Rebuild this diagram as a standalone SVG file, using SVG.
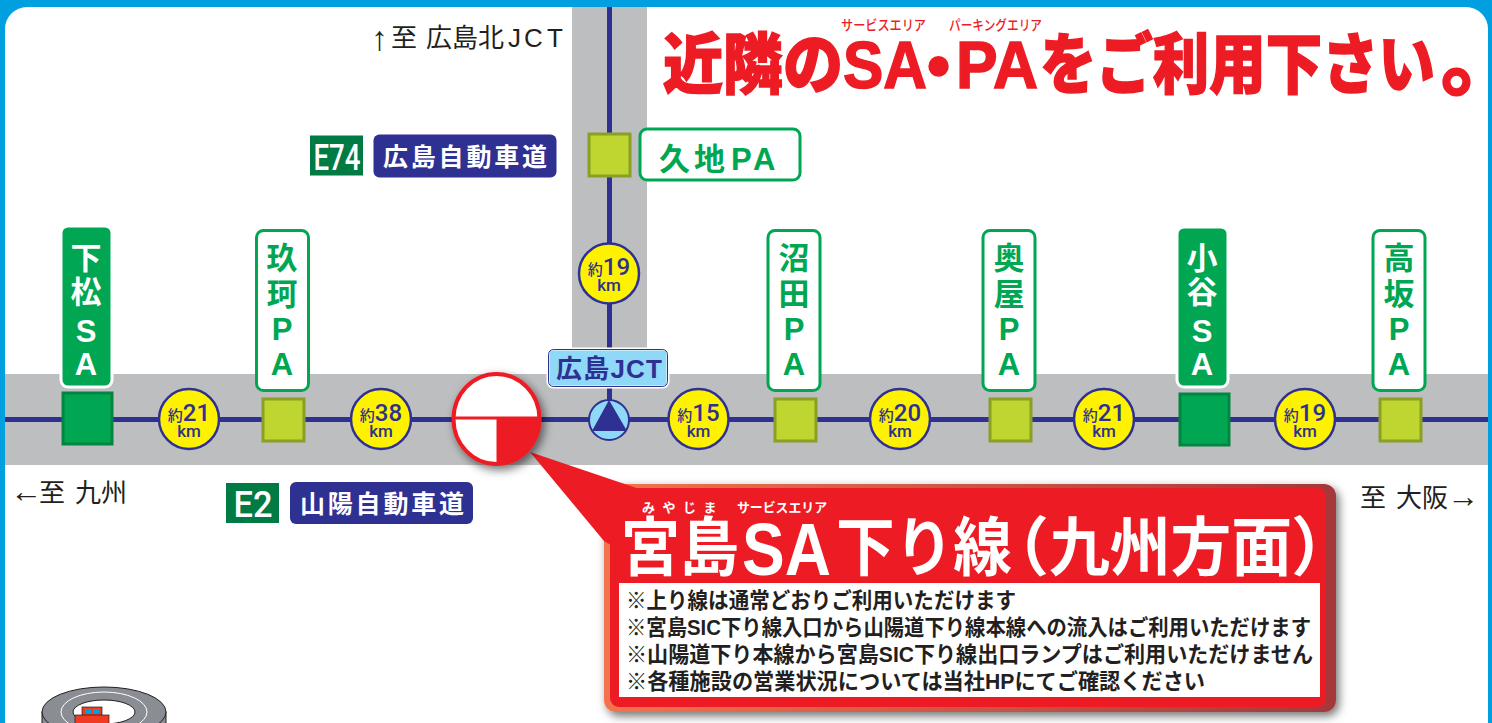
<svg xmlns="http://www.w3.org/2000/svg" width="1492" height="723" viewBox="0 0 1492 723">
<style>
text{font-family:"Liberation Sans","Noto Sans CJK JP",sans-serif}
.road{fill:#bcbec0}
.lnk{stroke:#2e3192;stroke-width:5;fill:none}
.dist{fill:#fff200;stroke:#2e3192;stroke-width:2.500}
.dt{font-family:Roboto,"Noto Sans CJK JP",sans-serif;fill:#2e3192;font-weight:500;text-anchor:middle}
.pa{fill:#bed62f;stroke:#8a9f23;stroke-width:3}
.sa{fill:#00a651;stroke:#008641;stroke-width:3}
.pal{fill:#fff;stroke:#00a651;stroke-width:3}
.sal{fill:#00a651;stroke:#fff;stroke-width:3}
.gt{fill:#00a651;font-size:31px;font-weight:700;text-anchor:middle}
.wt{fill:#fff;font-size:31px;font-weight:700;text-anchor:middle}
.dir{fill:#231f20;font-size:26px}
.pill{fill:#2e3192}
.pt{fill:#fff;font-size:25px;font-weight:700}
.eb{fill:#007b43}
.et{font-family:Roboto,sans-serif;fill:#fff;font-size:36px;font-weight:500;text-anchor:middle}
.note{fill:#231f20;font-size:22px;font-weight:700}
.ttl{fill:#fff;font-size:64px;font-weight:700}
.head{fill:#ed1c24;stroke:#ed1c24;stroke-width:1.500;font-size:66px;font-weight:900}
.rb{fill:#ed1c24;font-size:14px;font-weight:500}
</style>
<defs>
<linearGradient id="bevel" x1="0" x2="1" y1="0" y2="0"><stop offset="0" stop-color="#f3734e"/><stop offset="1" stop-color="#a5383b"/></linearGradient>
<filter id="sh" x="-20%" y="-20%" width="140%" height="140%"><feDropShadow dx="3" dy="4" stdDeviation="5" flood-color="#000" flood-opacity=".55"/></filter>
</defs>
<rect width="1492" height="723" fill="#00a0e0"/>
<rect x="5" y="7" width="1483" height="740" rx="22" fill="#fff"/>
<g id="roads">
<rect class="road" x="572" y="7" width="75" height="368"/>
<rect class="road" x="5" y="374" width="1483" height="91"/>
</g>
<g id="connectors">
<path class="lnk" d="M5 419.500H1488M609.500 7V420"/>
</g>
<g id="square-kuchi"><rect class="pa" x="589" y="134" width="41" height="42"/></g>
<g id="label-kuchi"><rect class="pal" x="640" y="129" width="160" height="51" rx="7"/><text class="gt" x="659 694 731 753" y="170" style="text-anchor:start">久地PA</text></g>
<g id="dir-north"><text class="dir" y="47"><tspan x="371" font-size="34" dy="3">↑</tspan><tspan x="391" dy="-3">至</tspan><tspan x="426">広</tspan><tspan x="452">島</tspan><tspan x="478">北</tspan><tspan x="508">J</tspan><tspan x="524">C</tspan><tspan x="547">T</tspan></text></g>
<g id="e74"><rect class="eb" x="310" y="135.500" width="53" height="40"/><text class="et" x="337" y="170" textLength="47" lengthAdjust="spacingAndGlyphs">E74</text></g>
<g id="route-e74"><rect class="pill" x="373.500" y="134.500" width="183" height="43" rx="6"/><text class="pt" x="383" y="166" textLength="164" lengthAdjust="spacing">広島自動車道</text></g>
<g id="dist-n19"><circle class="dist" cx="609" cy="273.500" r="30"/><text class="dt" x="609" y="275" font-size="24"><tspan font-size="15">約</tspan>19</text><text class="dt" x="609" y="291" font-size="17">km</text></g>
<g id="jct-label"><rect x="548" y="349" width="120" height="38" rx="5" fill="#8fd8f8" stroke="#fff" stroke-width="3"/><rect x="548.500" y="349.500" width="119" height="37" rx="5" fill="none" stroke="#2e3192"/><text x="556" y="378" fill="#2e3192" font-size="26" font-weight="700" textLength="106" lengthAdjust="spacing">広島JCT</text></g>
<g id="jct"><circle cx="609" cy="420" r="20" fill="#8fd8f8" stroke="#2e3192" stroke-width="2"/><path d="M609 400L627 431H592Z" fill="#2e3192"/></g>
<g id="shimomatsu"><rect class="sa" x="63" y="393" width="49" height="51"/><rect class="sal" x="61" y="226" width="51" height="161" rx="7"/><text class="wt" x="86" y="269">下</text><text class="wt" x="86" y="303">松</text><text class="wt" x="86" y="342">S</text><text class="wt" x="86" y="375">A</text></g>
<g id="kuga"><rect class="pa" x="263" y="399" width="41" height="42"/><rect class="pal" x="256.500" y="230.500" width="52" height="160" rx="7"/><text class="gt" x="282" y="269">玖</text><text class="gt" x="282" y="305">珂</text><text class="gt" x="282" y="340">P</text><text class="gt" x="282" y="375">A</text></g>
<g id="numata"><rect class="pa" x="775" y="399" width="41" height="42"/><rect class="pal" x="768" y="230.500" width="52" height="160" rx="7"/><text class="gt" x="794" y="269">沼</text><text class="gt" x="794" y="305">田</text><text class="gt" x="794" y="340">P</text><text class="gt" x="794" y="375">A</text></g>
<g id="okuya"><rect class="pa" x="990" y="399" width="41" height="42"/><rect class="pal" x="983" y="230.500" width="52" height="160" rx="7"/><text class="gt" x="1009" y="269">奥</text><text class="gt" x="1009" y="305">屋</text><text class="gt" x="1009" y="340">P</text><text class="gt" x="1009" y="375">A</text></g>
<g id="oya"><rect class="sa" x="1180" y="394" width="49" height="51"/><rect class="sal" x="1177" y="227" width="51" height="160" rx="7"/><text class="wt" x="1202" y="269">小</text><text class="wt" x="1202" y="303">谷</text><text class="wt" x="1202" y="342">S</text><text class="wt" x="1202" y="375">A</text></g>
<g id="kosaka"><rect class="pa" x="1380" y="399" width="41" height="42"/><rect class="pal" x="1373" y="230.500" width="52" height="160" rx="7"/><text class="gt" x="1399" y="269">高</text><text class="gt" x="1399" y="305">坂</text><text class="gt" x="1399" y="340">P</text><text class="gt" x="1399" y="375">A</text></g>
<g id="dist-21a"><circle class="dist" cx="189" cy="419" r="30"/><text class="dt" x="189" y="420.500" font-size="24"><tspan font-size="15">約</tspan>21</text><text class="dt" x="189" y="436.500" font-size="17">km</text></g>
<g id="dist-38"><circle class="dist" cx="381" cy="419" r="30"/><text class="dt" x="381" y="420.500" font-size="24"><tspan font-size="15">約</tspan>38</text><text class="dt" x="381" y="436.500" font-size="17">km</text></g>
<g id="dist-15"><circle class="dist" cx="698.500" cy="419" r="30"/><text class="dt" x="698.500" y="420.500" font-size="24"><tspan font-size="15">約</tspan>15</text><text class="dt" x="698.500" y="436.500" font-size="17">km</text></g>
<g id="dist-20"><circle class="dist" cx="900" cy="419" r="30"/><text class="dt" x="900" y="420.500" font-size="24"><tspan font-size="15">約</tspan>20</text><text class="dt" x="900" y="436.500" font-size="17">km</text></g>
<g id="dist-21b"><circle class="dist" cx="1104" cy="419" r="30"/><text class="dt" x="1104" y="420.500" font-size="24"><tspan font-size="15">約</tspan>21</text><text class="dt" x="1104" y="436.500" font-size="17">km</text></g>
<g id="dist-19"><circle class="dist" cx="1305" cy="419" r="30"/><text class="dt" x="1305" y="420.500" font-size="24"><tspan font-size="15">約</tspan>19</text><text class="dt" x="1305" y="436.500" font-size="17">km</text></g>
<g id="dir-west"><text class="dir" y="502"><tspan x="10" font-size="32">←</tspan><tspan x="39">至</tspan><tspan x="75">九州</tspan></text></g>
<g id="dir-east"><text class="dir" y="507"><tspan x="1360">至</tspan><tspan x="1396">大阪</tspan><tspan x="1447" font-size="32">→</tspan></text></g>
<g id="e2"><rect class="eb" x="226" y="483" width="53" height="40"/><text class="et" x="253" y="516.500" textLength="39" lengthAdjust="spacingAndGlyphs">E2</text></g>
<g id="route-e2"><rect class="pill" x="290" y="482" width="183" height="42" rx="6"/><text class="pt" x="300" y="513" textLength="164" lengthAdjust="spacing">山陽自動車道</text></g>
<g id="heading">
<text class="rb" x="841" y="30" textLength="85" lengthAdjust="spacingAndGlyphs">サービスエリア</text>
<text class="rb" x="949" y="30" textLength="93" lengthAdjust="spacingAndGlyphs">パーキングエリア</text>
<text class="head" x="663" y="88" textLength="180" lengthAdjust="spacingAndGlyphs">近隣の</text>
<text class="head" x="843" y="88" textLength="84" lengthAdjust="spacingAndGlyphs">SA</text>
<text class="head" x="927" y="88" font-size="60">•</text>
<text class="head" x="956" y="88" textLength="82" lengthAdjust="spacingAndGlyphs">PA</text>
<text class="head" x="1040" y="88" textLength="395" lengthAdjust="spacingAndGlyphs">をご利用下さい</text>
<text class="head" x="1441" y="88" font-size="80" style="font-size:80px">。</text>
</g>
<g id="callout">
<g filter="url(#sh)">
<rect x="604" y="484" width="732" height="228" rx="12" fill="url(#bevel)"/>
</g>
<rect x="610" y="488" width="716" height="219" rx="9" fill="#ed1c24"/>
<path d="M530 452L638 488.500L640 500L611 545L604 541Z" fill="#ed1c24"/>
<text x="642" y="512" fill="#fff" font-size="13" font-weight="700" letter-spacing="7.500">みやじま</text>
<text x="737" y="512" fill="#fff" font-size="13" font-weight="700" textLength="90" lengthAdjust="spacingAndGlyphs">サービスエリア</text>
<text class="ttl" x="621" y="570" textLength="118" lengthAdjust="spacingAndGlyphs">宮島</text>
<text class="ttl" x="742" y="575" style="font-size:74px" textLength="89" lengthAdjust="spacingAndGlyphs">SA</text>
<text class="ttl" x="836" y="570" textLength="176" lengthAdjust="spacingAndGlyphs">下り線</text>
<text class="ttl" x="985" y="570">（</text>
<text class="ttl" x="1049" y="570" textLength="243" lengthAdjust="spacingAndGlyphs">九州方面</text>
<text class="ttl" x="1291" y="570">）</text>
<rect x="619" y="583" width="701" height="114" fill="#fff"/>
<text class="note" x="626" y="608" textLength="390" lengthAdjust="spacingAndGlyphs">※上り線は通常どおりご利用いただけます</text>
<text class="note" x="626" y="635" textLength="685" lengthAdjust="spacingAndGlyphs">※宮島SIC下り線入口から山陽道下り線本線への流入はご利用いただけます</text>
<text class="note" x="626" y="662" textLength="687" lengthAdjust="spacingAndGlyphs">※山陽道下り本線から宮島SIC下り線出口ランプはご利用いただけません</text>
<text class="note" x="626" y="689" textLength="579" lengthAdjust="spacingAndGlyphs">※各種施設の営業状況については当社HPにてご確認ください</text>
</g>
<g id="miyajima">
<ellipse cx="496.500" cy="419" rx="43" ry="45" fill="#fff" stroke="#ed1c24" stroke-width="4" filter="url(#sh)"/>
<path d="M496.500 418H539.500A43 45 0 0 1 496.500 464Z" fill="#ed1c24"/>
<path d="M454 418H540" stroke="#ed1c24" stroke-width="3"/>
</g>
<g id="icon">
<rect x="42" y="712" width="124" height="14" fill="#8a8d93" stroke="#231f20"/>
<ellipse cx="104" cy="712" rx="62" ry="25" fill="#8a8d93" stroke="#231f20"/>
<ellipse cx="104" cy="712" rx="43" ry="20" fill="none" stroke="#fff"/>
<ellipse cx="104" cy="712" rx="31" ry="12" fill="#fff" stroke="#231f20"/>
<rect x="82" y="707" width="20" height="12" fill="#f03a22" stroke="#231f20" stroke-width=".7"/>
<rect x="85" y="709" width="6" height="5" fill="#00a0e0"/><rect x="93" y="709" width="6" height="5" fill="#00a0e0"/>
<rect x="75" y="715" width="34" height="12" fill="#f03a22" stroke="#231f20" stroke-width=".7"/>
</g>
</svg>
